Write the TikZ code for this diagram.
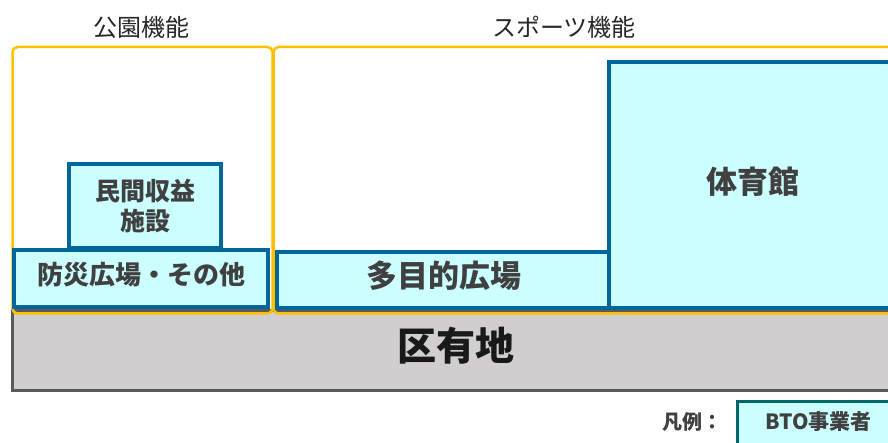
\documentclass[tikz,border=0pt]{standalone}
\usepackage{fontspec}
\setmainfont{Noto Sans CJK JP}
\usepackage{tikz}

\definecolor{zone}{HTML}{FFC000}
\definecolor{unitline}{HTML}{006699}
\definecolor{unitfill}{HTML}{CCFFFF}
\definecolor{landfill}{HTML}{D0CECE}
\definecolor{landline}{HTML}{595959}
\definecolor{legline}{HTML}{006666}
\definecolor{txt}{HTML}{404040}

\begin{document}
\begin{tikzpicture}[x=1pt,y=-1pt,
    zonebox/.style={draw=zone,line width=2.5pt,rounded corners=5pt,inner sep=0pt},
    unitbox/.style={draw=unitline,fill=unitfill,line width=4pt,inner sep=0pt,
        text=txt,font=\bfseries,align=center},
    lift/.style={text height=#1,text depth=0pt},
    title/.style={font=\fontsize{24}{28}\selectfont,text=black!85}]
    \useasboundingbox (0,0) rectangle (888,443);
    \clip (0,0) rectangle (888,443);
    \node[draw=landline,fill=landfill,line width=3pt,inner sep=0pt,lift=19.5pt,
        minimum width=888pt,minimum height=79pt,
        font=\bfseries\fontsize{39}{44}\selectfont,text=black!90] (land) at (456,350.5) {区有地};
    \node[zonebox,minimum width=260pt,minimum height=266.5pt] (park) at (142.5,180.25) {};
    \node[zonebox,minimum width=627pt,minimum height=266.5pt] (sports) at (587,180.25) {};
    \node[title] (parkT) at (141,27) {公園機能};
    \node[title] (sportsT) at (564,27) {スポーツ機能};
    \node[unitbox,minimum width=152pt,minimum height=84pt,
        font=\bfseries\fontsize{25}{30}\selectfont] (shop) at (145,206) {民間収益\\施設};
    \node[unitbox,lift=13pt,minimum width=254pt,minimum height=57pt,
        font=\bfseries\fontsize{26}{30}\selectfont] (plaza) at (141,278.5) {防災広場・その他};
    \node[unitbox,lift=15.5pt,minimum width=333pt,minimum height=56pt,
        font=\bfseries\fontsize{31}{36}\selectfont] (field) at (443.5,280) {多目的広場};
    \node[unitbox,lift=17pt,minimum width=288pt,minimum height=246pt,
        font=\bfseries\fontsize{31}{36}\selectfont] (gym) at (753,185) {体育館};
    \node[font=\bfseries\fontsize{20}{24}\selectfont,text=txt] (legT) at (692,422) {凡例：};
    \node[unitbox,lift=11pt,draw=legline,line width=3pt,minimum width=163pt,minimum height=45pt,
        font=\bfseries\fontsize{21}{25}\selectfont] (legend) at (818.5,423.5) {BTO事業者};
\end{tikzpicture}
\end{document}
